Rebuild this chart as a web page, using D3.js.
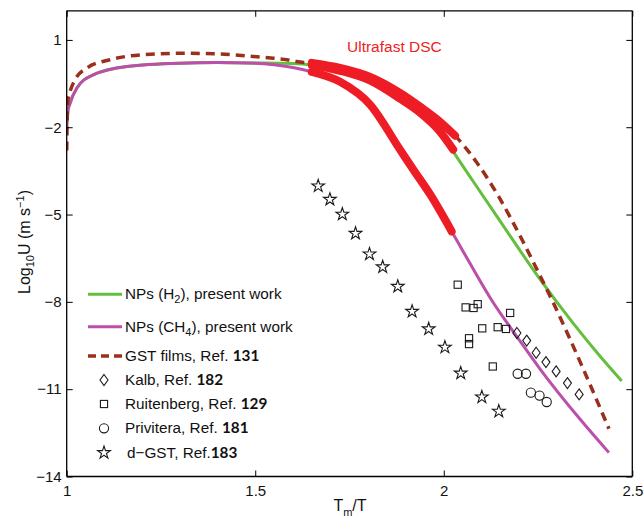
<!DOCTYPE html>
<html><head><meta charset="utf-8">
<script src="https://cdn.jsdelivr.net/npm/d3@7"></script>
<style>body{margin:0;background:#fff}svg{display:block}text{font-family:"Liberation Sans",Arial,sans-serif}</style>
</head><body><svg id="c" width="644" height="521"></svg>
<script>
// ---- data ----
const xTicks = [1, 1.5, 2, 2.5];
const yTicks = [1, -2, -5, -8, -11, -14];

const h2X = [1.0,1.003,1.009,1.027,1.07,1.16,1.3,1.4,1.5,1.6,1.65,1.725,1.805,1.884,1.937,1.99,2.025,2.08,2.149,2.255,2.344,2.41,2.472];
const h2Y = [-1.97,-1.45,-1.17,-0.65,-0.2,0.09,0.2,0.22,0.21,0.19,0.14,-0.06,-0.40,-1.02,-1.50,-2.15,-2.84,-3.9,-5.22,-7.22,-8.75,-9.8,-10.72];

const ch4X = [1.0,1.003,1.009,1.027,1.07,1.16,1.3,1.4,1.5,1.55,1.6,1.65,1.725,1.805,1.884,1.919,1.964,2.021,2.048,2.125,2.2025,2.255,2.36,2.438];
const ch4Y = [-1.97,-1.45,-1.17,-0.65,-0.2,0.09,0.2,0.22,0.2,0.15,0.05,-0.1,-0.44,-1.23,-2.77,-3.45,-4.31,-5.58,-6.19,-7.9,-9.35,-10.3,-12.01,-13.18];

const gstX = [1.0,1.003,1.009,1.022,1.053,1.115,1.2,1.3,1.4,1.513,1.548,1.584,1.619,1.65,1.725,1.805,1.884,1.937,1.99,2.03,2.088,2.145,2.207,2.264,2.29,2.366,2.419,2.438];
const gstY = [-2.8,-1.1,-0.77,-0.37,0.03,0.32,0.49,0.54,0.52,0.41,0.37,0.32,0.24,0.21,0.04,-0.27,-0.82,-1.29,-1.81,-2.29,-3.22,-4.37,-5.85,-7.33,-8.02,-10.19,-11.78,-12.36];

// Ultrafast DSC (red) segments
const dscAX = [1.65,1.725,1.805,1.884,1.937,1.99,2.03];
const dscAY = [0.21,0.04,-0.27,-0.82,-1.29,-1.81,-2.29];
const dscBX = [1.65,1.725,1.805,1.884,1.937,1.99,2.025];
const dscBY = [0.14,-0.06,-0.40,-1.02,-1.50,-2.15,-2.77];
const dscCX = [1.65,1.725,1.805,1.884,1.919,1.964,2.021];
const dscCY = [-0.1,-0.44,-1.23,-2.77,-3.45,-4.31,-5.58];

const kalbX = [2.194,2.220,2.245,2.271,2.298,2.328,2.359];
const kalbY = [-9.07,-9.33,-9.75,-10.07,-10.39,-10.79,-11.18];
const ruitX = [2.037,2.058,2.079,2.090,2.176,2.102,2.143,2.165,2.067,2.067,2.130];
const ruitY = [-7.41,-8.19,-8.21,-8.08,-8.38,-8.91,-8.87,-8.93,-9.25,-9.45,-10.22];
const privX = [2.196,2.218,2.231,2.254,2.273];
const privY = [-10.47,-10.47,-11.12,-11.22,-11.44];
const dgstX = [1.667,1.698,1.731,1.766,1.803,1.838,1.878,1.916,1.960,2.003,2.045,2.101,2.146];
const dgstY = [-4.02,-4.48,-4.99,-5.65,-6.36,-6.80,-7.47,-8.33,-8.93,-9.56,-10.45,-11.27,-11.76];

// ---- drawing ----
const svg = d3.select("#c");
const L=66.7, R=632.3, T=10.8, B=476.5;
const x = d3.scaleLinear().domain([1,2.5]).range([L,R]);
const y = d3.scaleLinear().domain([-14,2]).range([B,T]);
const C = {green:"#63bf3c", purple:"#bb4fa9", brown:"#9a2f1b", red:"#ee1c25"};

svg.append("clipPath").attr("id","pc").append("rect").attr("x",L).attr("y",T).attr("width",R-L).attr("height",B-T);
const g = svg.append("g").attr("clip-path","url(#pc)");
const line = d3.line().x(d=>x(d[0])).y(d=>y(d[1])).curve(d3.curveMonotoneX);
const zip = (a,b)=>a.map((v,i)=>[v,b[i]]);

g.append("path").attr("d",line(zip(h2X,h2Y))).attr("fill","none").attr("stroke",C.green).attr("stroke-width",3);
g.append("path").attr("d",line(zip(ch4X,ch4Y))).attr("fill","none").attr("stroke",C.purple).attr("stroke-width",3);
g.append("path").attr("d",line(zip(gstX,gstY))).attr("fill","none").attr("stroke",C.brown).attr("stroke-width",3.5).attr("stroke-dasharray","9,6");

const sym = svg.append("g");
const mk = (sel, type) => {
  if(type==="diamond") sel.append("path").attr("d","M0,-5.5L4,0L0,5.5L-4,0Z");
  else if(type==="square") sel.append("rect").attr("x",-3.6).attr("y",-3.6).attr("width",7.2).attr("height",7.2);
  else if(type==="circle") sel.append("circle").attr("r",4.6);
  else sel.append("path").attr("d",d3.symbol(d3.symbolStar,50)());
  sel.selectAll("*").attr("fill","none").attr("stroke","#1a1a1a").attr("stroke-width",1.1);
};
function markers(xs,ys,type){
  xs.forEach((v,i)=>{ const s=sym.append("g").attr("transform",`translate(${x(v)},${y(ys[i])})`); mk(s,type); });
}
markers(kalbX,kalbY,"diamond");
markers(ruitX,ruitY,"square");
markers(privX,privY,"circle");
markers(dgstX,dgstY,"star");

const red = svg.append("g");
[[dscAX,dscAY],[dscBX,dscBY],[dscCX,dscCY]].forEach(([a,b])=>{
  red.append("path").attr("d",line(zip(a,b))).attr("fill","none").attr("stroke",C.red).attr("stroke-width",8).attr("stroke-linecap","round");
});
svg.append("text").attr("x",347).attr("y",52).attr("fill",C.red).attr("font-size",15.5).text("Ultrafast DSC");

// axes
const fmtY = d => d<0 ? "\u2212"+Math.abs(d) : String(d);
const axB = svg.append("g").attr("transform",`translate(0,${B})`).call(d3.axisBottom(x).tickValues(xTicks).tickSize(-6).tickPadding(9).tickFormat(d=>String(d)));
const axT = svg.append("g").attr("transform",`translate(0,${T})`).call(d3.axisTop(x).tickValues(xTicks).tickSize(-6).tickFormat(""));
const axL = svg.append("g").attr("transform",`translate(${L},0)`).call(d3.axisLeft(y).tickValues(yTicks).tickSize(-6).tickPadding(5).tickFormat(fmtY));
const axR = svg.append("g").attr("transform",`translate(${R},0)`).call(d3.axisRight(y).tickValues(yTicks).tickSize(-6).tickFormat(""));
[axB,axT,axL,axR].forEach(a=>{
  a.select(".domain").attr("stroke","#000").attr("stroke-width",1.3);
  a.selectAll(".tick line").attr("stroke","#000").attr("stroke-width",1);
  a.selectAll("text").attr("font-size",15).attr("fill","#111").attr("font-family","Liberation Sans, Arial, sans-serif");
});
axB.selectAll(".domain").attr("d",`M${L},0H${R}`);
axT.selectAll(".domain").attr("d",`M${L},0H${R}`);
axL.selectAll(".domain").attr("d",`M0,${T}V${B}`);
axR.selectAll(".domain").attr("d",`M0,${T}V${B}`);

// axis titles
const xt = svg.append("text").attr("x",350).attr("y",511).attr("text-anchor","middle").attr("font-size",16).attr("fill","#111");
xt.append("tspan").text("T");
xt.append("tspan").attr("font-size",11).attr("dy",5).text("m");
xt.append("tspan").attr("dy",-5).text("/T");
const yt = svg.append("text").attr("transform","translate(30,242) rotate(-90)").attr("text-anchor","middle").attr("font-size",16).attr("fill","#111");
yt.append("tspan").text("Log");
yt.append("tspan").attr("font-size",11).attr("dy",4).text("10");
yt.append("tspan").attr("dy",-4).text("U (m s");
yt.append("tspan").attr("font-size",11).attr("dy",-6).text("\u22121");
yt.append("tspan").attr("dy",6).text(")");

// legend
const lg = svg.append("g").attr("font-size",15.3).attr("fill","#111");
const boldF = "Lato, 'Open Sans', sans-serif";
function ltext(yy, xx, parts){
  const t = lg.append("text").attr("x",xx).attr("y",yy+5);
  parts.forEach(p=>{
    const s=t.append("tspan").text(p.t);
    if(p.sub){ s.attr("font-size",11).attr("dy",4); }
    if(p.up){ s.attr("dy",-4); }
    if(p.b){ s.attr("font-family",boldF).attr("font-weight",700); }
  });
}
lg.append("line").attr("x1",88).attr("x2",122).attr("y1",294.3).attr("y2",294.3).attr("stroke",C.green).attr("stroke-width",3);
ltext(294.3,125,[{t:"NPs (H"},{t:"2",sub:1},{t:"), present work",up:1}]);
lg.append("line").attr("x1",88).attr("x2",122).attr("y1",326.7).attr("y2",326.7).attr("stroke",C.purple).attr("stroke-width",3);
ltext(326.7,125,[{t:"NPs (CH"},{t:"4",sub:1},{t:"), present work",up:1}]);
lg.append("line").attr("x1",88).attr("x2",122).attr("y1",356).attr("y2",356).attr("stroke",C.brown).attr("stroke-width",3.5).attr("stroke-dasharray","8,5");
ltext(356,125,[{t:"GST films, Ref. "},{t:"131",b:1}]);
const legM = [["diamond",380,"Kalb, Ref. ","182",125],["square",404,"Ruitenberg, Ref. ","129",125],["circle",428.3,"Privitera, Ref. ","181",125],["star",452.7,"d\u2212GST, Ref.","183",127]];
legM.forEach(([tp,yy,lab,num,xx])=>{
  const s = lg.append("g").attr("transform",`translate(104,${yy})`); mk(s,tp);
  ltext(yy,xx,[{t:lab},{t:num,b:1}]);
});
</script></body></html>
